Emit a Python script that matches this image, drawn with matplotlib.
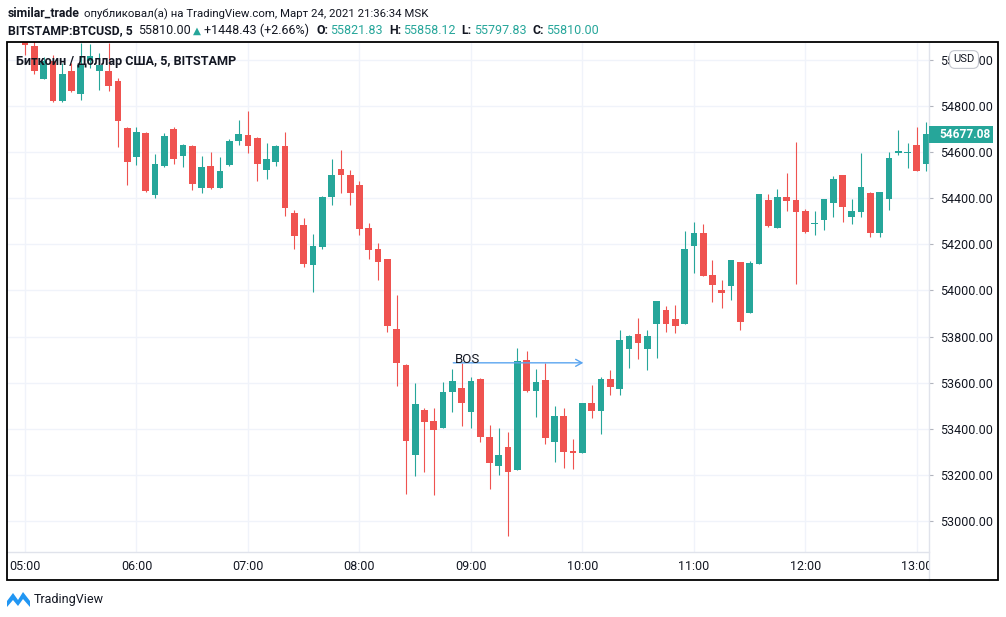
import matplotlib
matplotlib.use("Agg")
import matplotlib.pyplot as plt
from matplotlib.patches import Rectangle, Polygon
from matplotlib.lines import Line2D
import numpy as np

plt.rcParams['font.family'] = ['Roboto', 'DejaVu Sans']

# BTCUSD 5-minute candles, 05:00 .. 13:05
opens = [55090, 55059, 54918, 54994, 54820, 54953, 54853, 54995, 54953, 54953,
         54908, 54703, 54580, 54682, 54414, 54540, 54700, 54584, 54627, 54446,
         54540, 54446, 54544, 54649, 54674, 54661, 54522, 54558, 54627, 54336,
         54284, 54110, 54190, 54407, 54527, 54501, 54457, 54271, 54180, 54136,
         53833, 53677, 53286, 53481, 53434, 53405, 53561, 53577, 53474, 53616,
         53364, 53240, 53321, 53223, 53698, 53565, 53612, 53344, 53455, 53305,
         53296, 53512, 53478, 53615, 53573, 53746, 53811, 53746, 53854, 53915,
         53876, 53854, 54194, 54250, 54067, 54002, 54021, 54123, 53904, 54115,
         54392, 54272, 54404, 54392, 54345, 54287, 54307, 54381, 54501, 54320,
         54341, 54423, 54249, 54398, 54597, 54596, 54631, 54547]
highs = [55120, 55085, 55012, 55021, 54987, 54987, 55073, 55069, 55030, 55073,
         54920, 54709, 54708, 54687, 54592, 54682, 54708, 54635, 54631, 54583,
         54600, 54578, 54656, 54739, 54778, 54666, 54641, 54631, 54687, 54349,
         54316, 54245, 54410, 54570, 54609, 54522, 54475, 54293, 54206, 54136,
         53980, 53681, 53597, 53489, 53489, 53604, 53659, 53684, 53626, 53620,
         53416, 53402, 53387, 53750, 53737, 53659, 53684, 53499, 53489, 53354,
         53512, 53590, 53626, 53655, 53828, 53807, 53880, 53828, 53954, 53933,
         53937, 54258, 54297, 54288, 54132, 54045, 54132, 54123, 54126, 54418,
         54418, 54440, 54511, 54645, 54353, 54345, 54397, 54498, 54501, 54397,
         54597, 54428, 54427, 54599, 54696, 54638, 54710, 54732]
lows = [55020, 54939, 54917, 54817, 54817, 54859, 54826, 54965, 54869, 54865,
        54623, 54457, 54544, 54428, 54401, 54535, 54548, 54537, 54436, 54424,
        54439, 54444, 54540, 54631, 54597, 54476, 54483, 54540, 54323, 54180,
        54103, 53995, 54180, 54371, 54424, 54371, 54241, 54136, 54047, 53818,
        53587, 53117, 53197, 53211, 53113, 53403, 53474, 53413, 53405, 53341,
        53140, 53200, 52935, 53221, 53560, 53450, 53334, 53257, 53231, 53226,
        53295, 53448, 53376, 53547, 53547, 53662, 53704, 53655, 53708, 53820,
        53817, 53854, 54077, 54063, 53951, 53925, 53959, 53828, 53902, 54115,
        54277, 54271, 54345, 54028, 54248, 54241, 54262, 54320, 54298, 54288,
        54320, 54233, 54233, 54350, 54587, 54532, 54519, 54519]
closes = [55063, 54951, 54994, 54820, 54939, 54866, 54979, 55017, 54979, 54885,
          54736, 54558, 54689, 54431, 54548, 54670, 54570, 54631, 54462, 54534,
          54446, 54518, 54649, 54679, 54627, 54548, 54570, 54627, 54359, 54237,
          54115, 54193, 54405, 54501, 54501, 54424, 54268, 54177, 54123, 53847,
          53687, 53348, 53508, 53431, 53395, 53560, 53607, 53513, 53607, 53366,
          53253, 53286, 53211, 53693, 53565, 53603, 53361, 53455, 53301, 53296,
          53512, 53478, 53615, 53583, 53785, 53804, 53770, 53802, 53954, 53854,
          53847, 54180, 54250, 54064, 54025, 53990, 54132, 53863, 54118, 54418,
          54280, 54404, 54389, 54341, 54255, 54291, 54397, 54483, 54363, 54345,
          54449, 54249, 54427, 54574, 54604, 54600, 54519, 54677.08]

hour_labels = ["05:00", "06:00", "07:00", "08:00", "09:00",
               "10:00", "11:00", "12:00", "13:00"]
price_ticks = [53000, 53200, 53400, 53600, 53800, 54000,
               54200, 54400, 54600, 54800, 55000]
last_price = 54677.08
bos_level = 53686
bos_start, bos_end = 46.1, 60.1

W, H = 1006, 617
UP, DOWN = "#26a69a", "#ef5350"
TEXT = "#131722"
GRID = "#f0f3fa"
SEP = "#e0e3eb"


def fx(x):
    return x / W


def fy(y):
    return 1 - y / H


fig = plt.figure(figsize=(W / 100, H / 100), dpi=100)
fig.patch.set_facecolor("white")
renderer = fig.canvas.get_renderer()


def put_row(x, y, pieces):
    # pieces: (gap before, text, size, weight, colour), laid out left to right
    for gap, s, size, wt, col in pieces:
        x += gap
        t = fig.text(fx(x), fy(y), s, fontsize=size, fontweight=wt,
                     color=col, va="baseline")
        x += t.get_window_extent(renderer).width


# chart pane
L, R, T, B = 7, 929, 42, 552
ax = fig.add_axes([fx(L), fy(B), fx(R) - fx(L), fy(T) - fy(B)])

o, h, l, c = map(np.array, (opens, highs, lows, closes))
idx = np.arange(len(o))
colors = np.where(c >= o, UP, DOWN)
ax.vlines(idx, l, h, colors=colors, lw=0.8, zorder=2)
ax.bar(idx, np.maximum(np.abs(c - o), 5), bottom=np.minimum(o, c),
       width=0.72, color=colors, lw=0, zorder=3)

ax.set_xlim(-1.94, 97.31)
ax.set_ylim(52865.5, 55077.5)
ax.set_xticks(range(0, 97, 12))
ax.set_xticklabels(hour_labels)
ax.yaxis.tick_right()
ax.set_yticks(price_ticks)
ax.set_yticklabels([f"{p:.2f}" for p in price_ticks])
ax.tick_params(axis="x", length=0, pad=5.5, labelsize=9, labelcolor=TEXT)
ax.tick_params(axis="y", length=3, width=0.8, color="#b2b5be", pad=5,
               labelsize=9, labelcolor=TEXT)
ax.grid(color=GRID, lw=1)
ax.set_axisbelow(True)
for s in ax.spines.values():
    s.set_visible(False)

# BOS marker
ax.annotate("", xy=(bos_end, bos_level), xytext=(bos_start, bos_level),
            arrowprops=dict(arrowstyle="->,head_length=0.45,head_width=0.25",
                            color="#5aa5f0", lw=1, shrinkA=0, shrinkB=0),
            zorder=5)
ax.text(46.3, bos_level + 14, "BOS", fontsize=9.5, color=TEXT,
        va="center", ha="left", zorder=6)

# separators, corner blank and frame
fig.patches.append(Rectangle((fx(R + 1), fy(579)), fx(997) - fx(R + 1),
                             fy(553) - fy(579), transform=fig.transFigure,
                             fc="white", ec="none", zorder=4))
fig.lines.append(Line2D([fx(L), fx(R)], [fy(B), fy(B)], transform=fig.transFigure,
                        color=SEP, lw=1, zorder=5))
fig.lines.append(Line2D([fx(R), fx(R)], [fy(T), fy(580)], transform=fig.transFigure,
                        color=SEP, lw=1, zorder=5))
fig.patches.append(Rectangle((fx(7), fy(580)), fx(998) - fx(7), fy(42) - fy(580),
                             transform=fig.transFigure, fill=False,
                             ec="#000000", lw=1.3, zorder=6))

# last price label
ypix = fig.transFigure.inverted().transform(ax.transData.transform((0, last_price)))[1]
fig.patches.append(Rectangle((fx(R), ypix - 8.5 / H), fx(993) - fx(R), 17 / H,
                             transform=fig.transFigure, fc=UP, ec="none", zorder=5))
fig.text(fx(939), ypix, f"{last_price:.2f}", color="white", fontsize=8.6,
         fontweight="bold", va="center", ha="left", zorder=7)

# currency badge
fig.text(fx(964), fy(59.5), "USD", fontsize=8, color=TEXT, ha="center", va="center",
         zorder=7, bbox=dict(boxstyle="round,pad=0.35,rounding_size=0.5",
                             fc="white", ec="#c3c6ce", lw=0.8))

# legend inside pane
fig.text(fx(16), fy(65), "Биткоин / Доллар США, 5, BITSTAMP", fontsize=9.1,
         fontweight="bold", color=TEXT, va="baseline", zorder=7)

# header
put_row(8, 17, [(0, "similar_trade", 8.8, "bold", TEXT),
                (4, "опубликовал(а) на TradingView.com, Март 24, 2021 21:36:34 MSK",
                 8.2, "normal", TEXT)])
put_row(8, 34, [(0, "BITSTAMP:BTCUSD, 5", 8.8, "bold", TEXT),
                (5, "55810.00", 9, "normal", TEXT),
                (2, "▲", 7.5, "normal", UP),
                (4, "+1448.43 (+2.66%)", 9, "normal", TEXT),
                (7, "O:", 8.8, "bold", TEXT),
                (2, "55821.83", 9, "normal", UP),
                (6, "H:", 8.8, "bold", TEXT),
                (2, "55858.12", 9, "normal", UP),
                (6, "L:", 8.8, "bold", TEXT),
                (2, "55797.83", 9, "normal", UP),
                (6, "C:", 8.8, "bold", TEXT),
                (2, "55810.00", 9, "normal", UP)])

# footer logo
fig.patches.append(Polygon([(fx(7), fy(607)), (fx(7), fy(601)), (fx(13), fy(593)),
                            (fx(18), fy(600)), (fx(23), fy(592)), (fx(30), fy(601)),
                            (fx(30), fy(607)), (fx(23), fy(599)), (fx(18), fy(606)),
                            (fx(13), fy(600))],
                           closed=True, transform=fig.transFigure,
                           fc="#2196f3", ec="none"))
fig.text(fx(34), fy(599), "TradingView", fontsize=9, color=TEXT, va="center")

fig.savefig("out.png", dpi=100)
